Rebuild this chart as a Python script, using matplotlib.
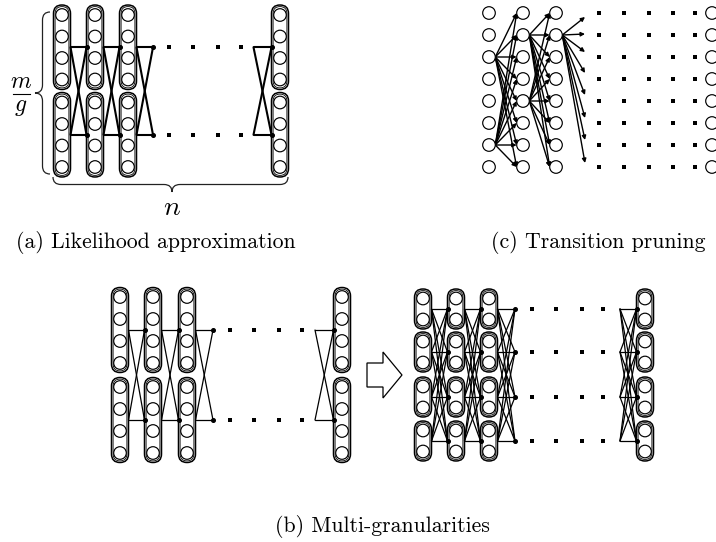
import matplotlib
matplotlib.use('Agg')
import matplotlib.pyplot as plt
from matplotlib.patches import FancyBboxPatch, Circle, Polygon, PathPatch
from matplotlib.path import Path

plt.rcParams['mathtext.fontset'] = 'cm'

# ---------------- data (diagram structure) ----------------
captions = ["(a) Likelihood approximation", "(b) Multi-granularities", "(c) Transition pruning"]
caption_xy = [(156, 242), (382, 527), (598, 242)]

# panel (a)
a_cols = [62, 95, 128, 280]
a_groups = [[15, 36.5, 58, 79.5], [102.5, 124, 145.5, 167]]
a_dots_x = [169, 193, 218, 241]

# panel (b) left
b1_cols = [120, 153, 187, 342]
b1_groups = [[297, 319, 341, 363], [387, 409, 431, 453]]
b1_dots_x = [230, 254, 279, 302]

# panel (b) right
b2_cols = [423, 456, 489, 645]
b2_centers = [309, 352, 397, 441]
b2_dots_x = [532, 556, 582, 603]

# panel (c)
c_cols = [489, 523, 556]
c_last_col = 712
c_rows = [13, 35, 57, 79, 101, 123, 145, 167]
c_dots_x = [599, 624, 649, 673, 695]
c_active1 = [2, 6]
c_active2 = [1, 4]
c_active3 = [1]
c_fan_end_x = 585
c_fan_end_y = [17, 34, 52, 73, 95, 118, 140, 163]

# ---------------- drawing ----------------
W, H = 716, 542
fig = plt.figure(figsize=(W / 100, H / 100), dpi=100)
ax = fig.add_axes([0, 0, 1, 1])
ax.set_xlim(0, W)
ax.set_ylim(H, 0)
ax.set_aspect('equal')
ax.axis('off')

R = 6.3
HALF = 8.5


def node(x, y, lw=0.85):
    ax.add_patch(Circle((x, y), R, facecolor='white', edgecolor='black', lw=lw, zorder=4))


def capsule(x, ys, pad=10):
    y0, y1 = min(ys) - pad, max(ys) + pad
    for half, lw in [(HALF, 1.1), (HALF - 1.6, 0.6)]:
        ax.add_patch(FancyBboxPatch((x - half, y0 + (HALF - half)), 2 * half,
                                    (y1 - y0) - 2 * (HALF - half),
                                    boxstyle=f"round,pad=0,rounding_size={half}",
                                    facecolor='none', edgecolor='black', lw=lw, zorder=3))
    for y in ys:
        node(x, y)


def cross(x0, x1, ys, lw):
    for ya in ys:
        for yb in ys:
            ax.plot([x0, x1], [ya, yb], color='black', lw=lw, solid_capstyle='round', zorder=2)
    for yb in ys:
        ax.plot([x1], [yb], 'o', color='black', ms=2.6, zorder=2)


def dots(xs, ys, ms=2.6):
    for x in xs:
        for y in ys:
            ax.plot([x], [y], 's', color='black', ms=ms, mew=0)


def brace_v(x_end, x_tip, y0, y1, d=8, lw=0.9):
    xm = (x_end + x_tip) / 2
    ym = (y0 + y1) / 2
    verts = [(x_end, y0), (xm, y0), (xm, y0 + d), (xm, ym - d), (xm, ym), (x_tip, ym),
             (xm, ym), (xm, ym + d), (xm, y1 - d), (xm, y1), (x_end, y1)]
    codes = [Path.MOVETO, Path.CURVE3, Path.CURVE3, Path.LINETO, Path.CURVE3, Path.CURVE3,
             Path.CURVE3, Path.CURVE3, Path.LINETO, Path.CURVE3, Path.CURVE3]
    ax.add_patch(PathPatch(Path(verts, codes), facecolor='none', edgecolor='#222222', lw=lw))


def brace_h(x0, x1, y_end, y_tip, xmid=None, d=8, lw=0.9):
    ym = (y_end + y_tip) / 2
    xc = (x0 + x1) / 2 if xmid is None else xmid
    verts = [(x0, y_end), (x0, ym), (x0 + d, ym), (xc - d, ym), (xc, ym), (xc, y_tip),
             (xc, ym), (xc + d, ym), (x1 - d, ym), (x1, ym), (x1, y_end)]
    codes = [Path.MOVETO, Path.CURVE3, Path.CURVE3, Path.LINETO, Path.CURVE3, Path.CURVE3,
             Path.CURVE3, Path.CURVE3, Path.LINETO, Path.CURVE3, Path.CURVE3]
    ax.add_patch(PathPatch(Path(verts, codes), facecolor='none', edgecolor='#222222', lw=lw))


# ---- panel (a)
for x in a_cols:
    for g in a_groups:
        capsule(x, g)
a_lines = [(g[1] + g[2]) / 2 for g in a_groups]
for i in range(2):
    cross(a_cols[i] + HALF, a_cols[i + 1] - HALF, a_lines, 1.5)
cross(a_cols[2] + HALF, a_cols[2] + HALF + 16.5, a_lines, 1.5)
dots(a_dots_x, a_lines)
cross(a_cols[3] - HALF - 18, a_cols[3] - HALF, a_lines, 1.5)
brace_v(50, 35, 12, 174)
brace_h(53, 288, 177, 192, xmid=172)
ax.text(172, 207, r'$n$', fontsize=20, ha='center', va='center')
ax.text(21, 81, r'$m$', fontsize=17, ha='center', va='center')
ax.plot([13, 30], [94, 94], color='black', lw=0.8)
ax.text(21, 106, r'$g$', fontsize=17, ha='center', va='center')

# ---- panel (b) left
for x in b1_cols:
    for g in b1_groups:
        capsule(x, g, pad=9.5)
b1_lines = [(g[1] + g[2]) / 2 for g in b1_groups]
for i in range(2):
    cross(b1_cols[i] + HALF, b1_cols[i + 1] - HALF, b1_lines, 0.9)
cross(b1_cols[2] + HALF, b1_cols[2] + HALF + 17.5, b1_lines, 0.9)
dots(b1_dots_x, b1_lines)
cross(b1_cols[3] - HALF - 18.5, b1_cols[3] - HALF, b1_lines, 0.9)

# big arrow
ax.add_patch(Polygon([(367, 363), (383, 363), (383, 352), (402, 375), (383, 398),
                      (383, 387), (367, 387)], closed=True, facecolor='white',
                     edgecolor='black', lw=0.9))

# ---- panel (b) right
for x in b2_cols:
    for c in b2_centers:
        capsule(x, [c - 10.5, c + 10.5], pad=9.5)
for i in range(2):
    cross(b2_cols[i] + HALF, b2_cols[i + 1] - HALF, b2_centers, 0.9)
cross(b2_cols[2] + HALF, b2_cols[2] + HALF + 17.5, b2_centers, 0.9)
dots(b2_dots_x, b2_centers)
cross(b2_cols[3] - HALF - 16.5, b2_cols[3] - HALF, b2_centers, 0.9)

# ---- panel (c)
def arrow(p0, p1):
    ax.annotate('', xy=p1, xytext=p0,
                arrowprops=dict(arrowstyle='-|>', lw=1.0, color='black',
                                mutation_scale=6, shrinkA=0, shrinkB=0), zorder=1)

for i in c_active1:
    for j in range(len(c_rows)):
        arrow((c_cols[0] + R, c_rows[i]), (c_cols[1] - R, c_rows[j]))
for i in c_active2:
    for j in range(len(c_rows)):
        arrow((c_cols[1] + R, c_rows[i]), (c_cols[2] - R, c_rows[j]))
for i in c_active3:
    for yj in c_fan_end_y:
        arrow((c_cols[2] + R, c_rows[i]), (c_fan_end_x, yj))
for x in c_cols + [c_last_col]:
    for y in c_rows:
        node(x, y)
dots(c_dots_x, c_rows)

# captions
for txt, (x, y) in zip(captions, caption_xy):
    ax.text(x, y, txt, fontsize=15.7, family='cmr10', ha='center', va='center')

fig.savefig('out.png', dpi=100, facecolor='white')
